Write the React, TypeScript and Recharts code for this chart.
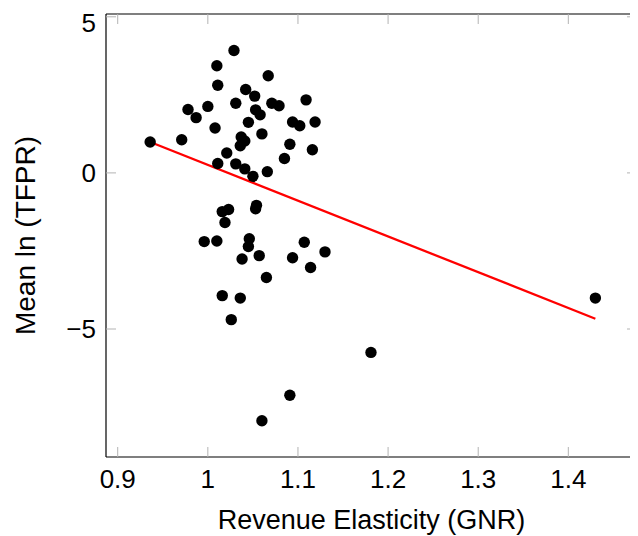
import React from 'react';
import { ScatterChart, Scatter, XAxis, YAxis } from 'recharts';

const elasticity = [
  0.936, 0.971, 0.978, 0.987, 1.0, 1.008, 1.01, 1.011, 1.029, 1.031,
  1.042, 1.052, 1.067, 1.053, 1.058, 1.071, 1.079, 1.109, 1.045, 1.06,
  1.094, 1.102, 1.119, 1.037, 1.041, 1.036, 1.091, 1.116, 1.021, 1.085,
  1.011, 1.031, 1.041, 1.05, 1.066, 1.016, 1.023, 1.019, 1.054, 1.053,
  0.996, 1.01, 1.046, 1.045, 1.038, 1.057, 1.094, 1.107, 1.114, 1.13,
  1.065, 1.016, 1.036, 1.026, 1.091, 1.06, 1.181, 1.43,
];
const meanLnTfpr = [
  0.99, 1.06, 2.03, 1.77, 2.13, 1.44, 3.43, 2.81, 3.92, 2.23,
  2.67, 2.46, 3.11, 2.02, 1.86, 2.23, 2.15, 2.34, 1.62, 1.25,
  1.63, 1.51, 1.63, 1.15, 1.02, 0.87, 0.92, 0.74, 0.64, 0.46,
  0.3, 0.29, 0.13, -0.11, 0.04, -1.24, -1.17, -1.59, -1.04, -1.15,
  -2.2, -2.18, -2.11, -2.36, -2.76, -2.65, -2.72, -2.22, -3.03, -2.53,
  -3.35, -3.93, -4.01, -4.7, -7.12, -7.94, -5.75, -4.01,
];
const fitX = [0.936, 1.43];
const fitY = [0.99, -4.67];

const xTicks = [0.9, 1, 1.1, 1.2, 1.3, 1.4];
const yTicks = [-5, 0, 5];

const points = elasticity.map((x, i) => ({ x, y: meanLnTfpr[i] }));
const fitLine = fitX.map((x, i) => ({ x, y: fitY[i] }));

const FONT = '"Liberation Sans", Arial, sans-serif';
const TICK_COLOR = '#b3b3b3';
const xDomain: [number, number] = [0.887, 1.4762];
const yDomain: [number, number] = [-9.1, 5.09];

const fmtY = (v: number) => (v < 0 ? '\u2212' + Math.abs(v) : String(v));
const fmtX = (v: number) => String(v);
const blank = () => '';

const Dot = (p: any) => <circle cx={p.cx} cy={p.cy} r={5.7} fill="#000" />;
const NoDot = () => <g />;

const YLabel = (props: any) => {
  const vb = props.viewBox || { x: 0, y: 0, width: 0, height: 0 };
  const cx = vb.x + 27;
  const cy = vb.y + vb.height / 2;
  return (
    <text
      x={cx}
      y={cy}
      transform={`rotate(-90 ${cx} ${cy})`}
      textAnchor="middle"
      fontFamily={FONT}
      fontSize={28}
      fill="#000"
    >
      Mean ln (TFPR)
    </text>
  );
};

export default function App() {
  return (
    <ScatterChart
      width={630}
      height={528}
      margin={{ top: 5, right: 0, bottom: 0, left: 0 }}
      style={{ fontFamily: FONT }}
    >
      <XAxis
        xAxisId="b"
        type="number"
        dataKey="x"
        domain={xDomain}
        ticks={xTicks}
        allowDataOverflow
        orientation="bottom"
        height={79}
        tickSize={-10}
        tickMargin={23}
        tickFormatter={fmtX}
        tick={{ fontSize: 26, fill: '#000', fontFamily: FONT }}
        tickLine={{ stroke: TICK_COLOR, strokeWidth: 1 }}
        axisLine={{ stroke: '#000', strokeWidth: 1.2 }}
        label={{
          value: 'Revenue Elasticity (GNR)',
          position: 'insideBottom',
          offset: 7,
          fontSize: 27,
          fill: '#000',
          fontFamily: FONT,
        }}
      />
      <XAxis
        xAxisId="t"
        type="number"
        dataKey="x"
        domain={xDomain}
        ticks={xTicks}
        allowDataOverflow
        orientation="top"
        height={1}
        tickSize={-10}
        tickMargin={0}
        tickFormatter={blank}
        tickLine={{ stroke: TICK_COLOR, strokeWidth: 1 }}
        axisLine={{ stroke: '#000', strokeWidth: 1.2 }}
      />
      <YAxis
        yAxisId="l"
        type="number"
        dataKey="y"
        domain={yDomain}
        ticks={yTicks}
        allowDataOverflow
        orientation="left"
        width={98}
        tickSize={-10}
        tickMargin={20}
        tickFormatter={fmtY}
        tick={{ fontSize: 26, fill: '#000', fontFamily: FONT }}
        tickLine={{ stroke: TICK_COLOR, strokeWidth: 1 }}
        axisLine={{ stroke: '#000', strokeWidth: 1.2 }}
        label={{ content: YLabel }}
      />
      <YAxis
        yAxisId="r"
        type="number"
        dataKey="y"
        domain={yDomain}
        ticks={yTicks}
        allowDataOverflow
        orientation="right"
        width={1}
        tickSize={-10}
        tickMargin={0}
        tickFormatter={blank}
        tickLine={{ stroke: TICK_COLOR, strokeWidth: 1 }}
        axisLine={{ stroke: '#000', strokeWidth: 1.2 }}
      />
      <Scatter
        xAxisId="b"
        yAxisId="l"
        data={fitLine}
        line={{ stroke: '#ff0000', strokeWidth: 2.3 }}
        shape={NoDot}
        isAnimationActive={false}
      />
      <Scatter
        xAxisId="b"
        yAxisId="l"
        data={points}
        shape={Dot}
        isAnimationActive={false}
      />
    </ScatterChart>
  );
}
